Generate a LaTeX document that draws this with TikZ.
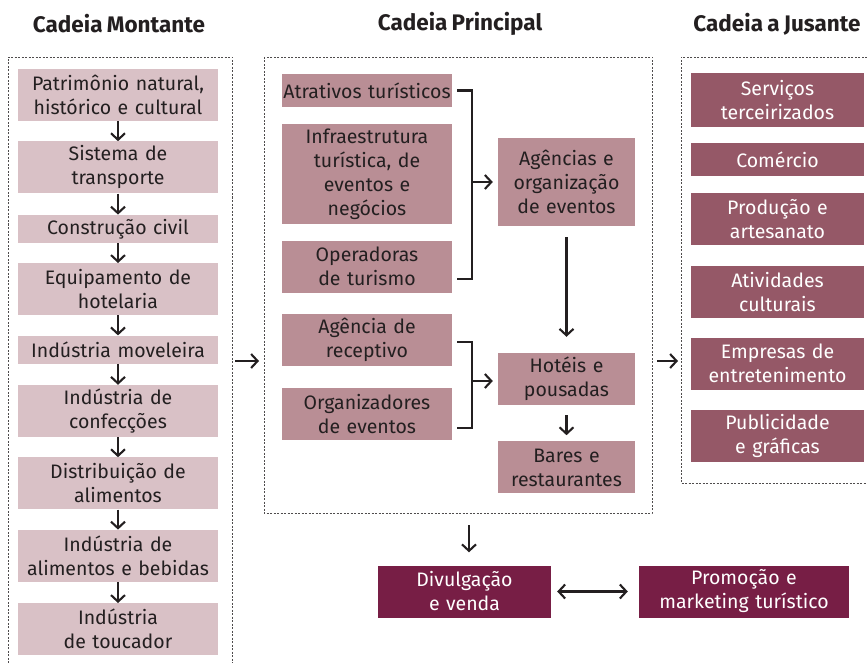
\documentclass[tikz,border=0pt]{standalone}
\usepackage{fontspec}
\setmainfont{Fira Sans}[WordSpace=0.8]
\usetikzlibrary{positioning,arrows.meta,calc}
\definecolor{montante}{HTML}{D9C1C6}
\definecolor{principal}{HTML}{B98E95}
\definecolor{jusante}{HTML}{955867}
\definecolor{divulg}{HTML}{771E45}
\definecolor{texto}{HTML}{231F20}

\begin{document}
\begin{tikzpicture}[x=1pt, y=-1pt, font=\fontsize{19.5}{24}\selectfont, text=texto,
  box/.style={inner sep=0pt, align=center, minimum height=52pt},
  mont/.style={box, fill=montante, text width=200pt},
  princA/.style={box, fill=principal, text width=170pt},
  princB/.style={box, fill=principal, text width=137pt},
  jus/.style={box, fill=jusante, text=white, text width=173pt},
  final/.style={box, fill=divulg, text=white},
  titulo/.style={font=\fontsize{22.5}{26}\selectfont\bfseries},
  cadeia/.style={draw=texto!80, line width=0.8pt, dash pattern=on 2pt off 1.5pt},
  chave/.style={draw=texto, line width=2.1pt},
  ponta/.tip={Straight Barb[length=6.5pt,width=14pt]},
  seta/.style={-ponta, line width=2.1pt, draw=texto}]
\useasboundingbox (0,0) rectangle (867,663);
%titles
\node[titulo] (tmont) at (119,24) {Cadeia Montante};
\node[titulo] (tprinc) at (460,24) {Cadeia Principal};
\node[titulo] (tjus) at (777,24) {Cadeia a Jusante};
%frames
\draw[cadeia] (8,663) -- (8,57) -- (232,57) -- (232,663);
\draw[cadeia] (264,57) rectangle (652,513);
\draw[cadeia] (867,57) -- (681,57) -- (681,483) -- (867,483);
%montante
\node[mont] (patr) at (118,95) {Patrimônio natural,\\histórico e cultural};
\node[mont, below=20pt of patr] (transp) {Sistema de\\transporte};
\node[mont, minimum height=28pt, below=21pt of transp] (civil) {Construção civil};
\node[mont, below=20pt of civil] (equip) {Equipamento de\\hotelaria};
\node[mont, minimum height=28pt, below=20pt of equip] (movel) {Indústria moveleira};
\node[mont, below=21pt of movel] (confec) {Indústria de\\confecções};
\node[mont, below=20pt of confec] (distr) {Distribuição de\\alimentos};
\node[mont, below=20pt of distr] (bebid) {Indústria de\\alimentos e bebidas};
\node[mont, below=21pt of bebid] (touc) {Indústria\\de toucador};
\foreach \a/\b in {patr/transp, transp/civil, civil/equip, equip/movel, movel/confec, confec/distr, distr/bebid, bebid/touc}
  \draw[seta] (\a) -- (\b);
%principal
\node[princA, minimum height=33pt] (atrat) at (367,90.5) {Atrativos turísticos};
\node[princA, minimum height=100pt, below=17pt of atrat] (infra) {Infraestrutura\\turística, de\\eventos e\\negócios};
\node[princA, below=16pt of infra] (oper) {Operadoras\\de turismo};
\node[princA, below=21pt of oper] (recep) {Agência de\\receptivo};
\node[princA, below=21pt of recep] (orgev) {Organizadores\\de eventos};
\node[princB, minimum height=88pt] (agenc) at (566.5,182) {Agências e\\organização\\de eventos};
\node[princB] (hotel) at (566.5,379) {Hotéis e\\pousadas};
\node[princB, below=36pt of hotel] (bares) {Bares e\\restaurantes};
\draw[chave] ($(atrat.east)+(5,0)$) -| ($(oper.east)+(20,12)$) -- ($(oper.east)+(5,12)$);
\coordinate (junta1) at ($(agenc.west)+(-26,0)$);
\draw[seta, shorten >=5pt] (junta1) -- (agenc);
\draw[chave] ($(recep.east)+(5,2)$) -| ($(orgev.east)+(20,14)$) -- ($(orgev.east)+(5,14)$);
\coordinate (junta2) at ($(hotel.west)+(-26,2)$);
\draw[seta, shorten >=5pt] (junta2) -- (hotel.west |- junta2);
\draw[seta, shorten <=11pt, shorten >=16pt] (agenc) -- (hotel);
\draw[seta, shorten <=10pt, shorten >=6pt] (hotel) -- (bares);
%jusante
\node[jus, minimum height=54pt] (serv) at (777.5,100) {Serviços\\terceirizados};
\node[jus, minimum height=33pt, below=16pt of serv] (comerc) {Comércio};
\node[jus, below=16pt of comerc] (prod) {Produção e\\artesanato};
\node[jus, below=21pt of prod] (ativ) {Atividades\\culturais};
\node[jus, below=19pt of ativ] (empr) {Empresas de\\entretenimento};
\node[jus, below=20pt of empr] (publ) {Publicidade\\e gráficas};
%between chains
\coordinate (montS) at (235,361);
\coordinate (princE) at (259,361);
\draw[seta] (montS) -- (princE);
\coordinate (princS) at (657,361);
\coordinate (jusE) at (678,361);
\draw[seta] (princS) -- (jusE);
%divulgacao
\node[final, text width=173pt] (divul) at (464.5,591.5) {Divulgação\\e venda};
\node[final, text width=210pt] (promo) at (744,591.5) {Promoção e\\marketing turístico};
\coordinate (princB) at (469,525);
\draw[seta, shorten >=13pt] (princB) -- (princB |- divul.north);
\draw[seta, ponta-ponta, shorten <=6pt, shorten >=11pt] (divul) -- (promo);
\end{tikzpicture}
\end{document}
